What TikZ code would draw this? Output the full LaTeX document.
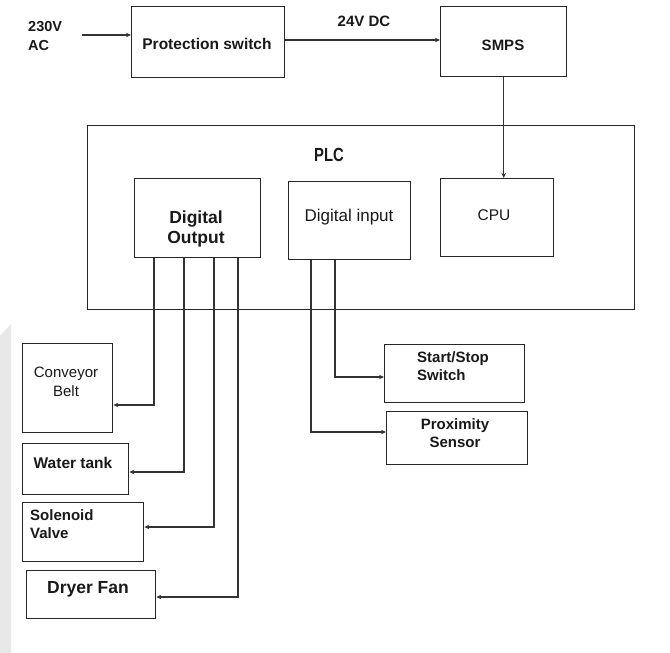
\documentclass[tikz,border=0pt]{standalone}
\usepackage{graphicx}
\usepackage{fontspec}
\setmainfont{Liberation Sans}
\usetikzlibrary{arrows.meta,calc}

\tikzset{
  blk/.style={draw=black!85, line width=1.4pt, rectangle, inner sep=0pt},
  wire/.style={draw=black!80, line width=1.25pt},
  feed/.style={wire, -{Stealth[length=5pt,width=4.5pt]}},
  lbl/.style={inner sep=0pt, text=black!90},
}

\newcommand{\boxat}[5]{%
  \node[blk, minimum width=#4-#2, minimum height=#5-#3, anchor=north west] (#1) at (#2,#3) {};}

\begin{document}
\begin{tikzpicture}[x=1pt, y=-1pt]
  \useasboundingbox (0,0) rectangle (670,653);
  \fill[white] (0,0) rectangle (670,653);
  % faint grey band along the lower left edge
  \fill[black!9] (0,336) -- (11,324) -- (11,653) -- (0,653) -- cycle;

  % supply chain
  \boxat{prot}{131}{6}{284}{77}
  \boxat{smps}{440}{6}{566}{76}
  % PLC enclosure and modules
  \boxat{plc}{87}{125}{634}{309}
  \boxat{dout}{134}{178}{260}{257}
  \boxat{din}{288}{181}{410}{259}
  \boxat{cpu}{440}{178}{553}{256}
  % field devices
  \boxat{conv}{22}{343}{112}{432}
  \boxat{water}{22}{443}{128}{494}
  \boxat{sol}{22}{502}{143}{561}
  \boxat{dryer}{26}{570}{155}{618}
  \boxat{start}{384}{344}{524}{402}
  \boxat{prox}{386}{411}{527}{464}

  % texts
  \node[lbl, anchor=west, align=left, font=\bfseries\fontsize{14.5}{19}\selectfont] (ac) at (28,36) {230V\\AC};
  \node[lbl, font=\bfseries\fontsize{15.5}{18}\selectfont] at (207,44) {Protection switch};
  \node[lbl, font=\bfseries\fontsize{15}{18}\selectfont] (dc) at (364,21) {24V DC};
  \node[lbl, font=\bfseries\fontsize{15}{18}\selectfont] at (503,45) {SMPS};
  \node[lbl, font=\bfseries\fontsize{19}{22}\selectfont] at (329,155) {\scalebox{0.78}[1]{PLC}};
  \node[lbl, align=center, font=\bfseries\fontsize{17.5}{20}\selectfont] at (196,229) {Digital\\Output};
  \node[lbl, font=\fontsize{17}{20}\selectfont] at (349,217) {Digital input};
  \node[lbl, font=\fontsize{15.5}{18}\selectfont] at (494,215) {CPU};
  \node[lbl, align=center, font=\fontsize{15}{18.5}\selectfont] at (66,382) {Conveyor\\Belt};
  \node[lbl, font=\bfseries\fontsize{15.5}{18}\selectfont] at (73,463) {Water tank};
  \node[lbl, anchor=west, align=left, font=\bfseries\fontsize{15}{18.5}\selectfont] at (30,524) {Solenoid\\Valve};
  \node[lbl, font=\bfseries\fontsize{17.5}{20}\selectfont] at (88,589) {Dryer Fan};
  \node[lbl, anchor=west, align=left, font=\bfseries\fontsize{15}{17.5}\selectfont] at (417,366) {Start/Stop\\Switch};
  \node[lbl, align=center, font=\bfseries\fontsize{15}{17.5}\selectfont] at (455,433) {Proximity\\Sensor};

  % power path
  \coordinate (acin) at (82,35);
  \draw[feed] (acin) -- (acin -| prot.west);
  \draw[feed] (prot.east |- 0,40) -- (smps.west |- 0,40);
  \draw[feed] (smps.south) -- (smps.south |- cpu.north);

  % digital outputs
  \draw[feed] (dout.south -| 154,0) |- (conv.east |- 0,405);
  \draw[feed] (dout.south -| 184,0) |- (water.east |- 0,472);
  \draw[feed] (dout.south -| 214,0) |- (sol.east |- 0,527);
  \draw[feed] (dout.south -| 238,0) |- (dryer.east |- 0,597);

  % digital inputs
  \draw[feed] (din.south -| 335,0) |- (start.west |- 0,377);
  \draw[feed] (din.south -| 311,0) |- (prox.west |- 0,432);
\end{tikzpicture}
\end{document}
